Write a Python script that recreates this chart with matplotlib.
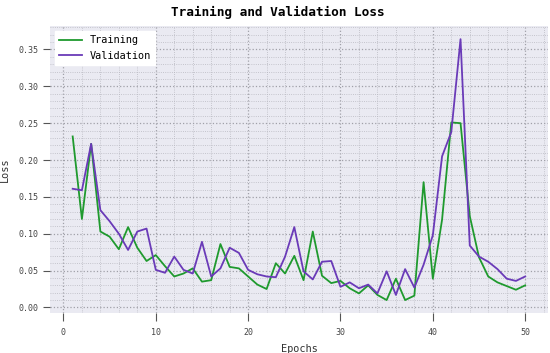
import matplotlib
matplotlib.use('Agg')
import matplotlib.pyplot as plt
from matplotlib.ticker import MultipleLocator

# loss values per epoch
epochs = list(range(1, 51))
training = [0.232, 0.120, 0.222, 0.103, 0.096, 0.079, 0.109, 0.081, 0.063, 0.071,
            0.056, 0.042, 0.046, 0.053, 0.035, 0.037, 0.086, 0.055, 0.053, 0.042,
            0.031, 0.025, 0.060, 0.046, 0.070, 0.037, 0.103, 0.043, 0.033, 0.036,
            0.026, 0.019, 0.030, 0.017, 0.010, 0.039, 0.010, 0.016, 0.170, 0.039,
            0.119, 0.251, 0.250, 0.124, 0.068, 0.042, 0.034, 0.029, 0.024, 0.030]
validation = [0.161, 0.159, 0.222, 0.132, 0.117, 0.100, 0.078, 0.103, 0.107, 0.051,
              0.047, 0.069, 0.051, 0.046, 0.089, 0.042, 0.053, 0.081, 0.074, 0.051,
              0.045, 0.042, 0.041, 0.069, 0.109, 0.049, 0.038, 0.062, 0.063, 0.028,
              0.034, 0.026, 0.031, 0.019, 0.049, 0.017, 0.052, 0.027, 0.058, 0.098,
              0.205, 0.238, 0.364, 0.084, 0.069, 0.062, 0.052, 0.039, 0.036, 0.042]

plt.rcParams['font.family'] = ['DejaVu Sans Mono']

fig = plt.figure(figsize=(5.5, 3.53), dpi=100)
ax = fig.add_axes([0.091, 0.113, 0.905, 0.813])
ax.set_facecolor('#eaeaf2')
for s in ax.spines.values():
    s.set_visible(False)

ax.plot(epochs, training, color='#1f9a2e', lw=1.3, label='Training')
ax.plot(epochs, validation, color='#6a3ab8', lw=1.3, label='Validation')

ax.xaxis.set_major_locator(MultipleLocator(10))
ax.xaxis.set_minor_locator(MultipleLocator(2))
ax.yaxis.set_major_locator(MultipleLocator(0.05))
ax.yaxis.set_minor_locator(MultipleLocator(0.01))
ax.grid(which='major', color='#a0a0a8', ls=':', lw=0.9)
ax.grid(which='minor', color='#b8b8c0', ls=':', lw=0.6)
ax.set_axisbelow(True)
ax.tick_params(which='major', length=5, color='#555555', labelsize=6, labelcolor='#444444')
ax.tick_params(axis='x', which='major', length=6, pad=5)
ax.tick_params(which='minor', length=0)

fig.text(0.505, 0.965, 'Training and Validation Loss', fontsize=9.2,
         fontweight='bold', ha='center', va='center')
ax.set_xlabel('Epochs', fontsize=7.4, color='#333333', labelpad=5)
ax.set_ylabel('Loss', fontsize=7.4, color='#333333', labelpad=6)
ax.legend(loc='upper left', fontsize=7.4, frameon=True, facecolor='white',
          edgecolor='white', framealpha=1, fancybox=False, handlelength=2.2)

fig.savefig('out.png', dpi=100)
